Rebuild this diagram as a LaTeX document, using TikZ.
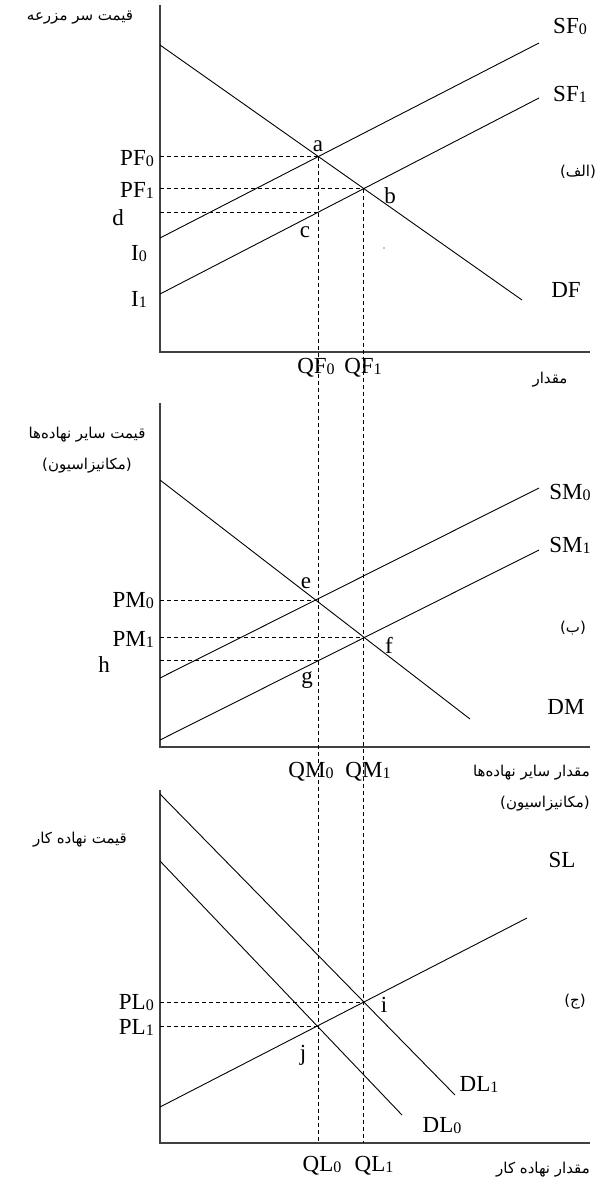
\documentclass[tikz,border=0pt]{standalone}
\usepackage{fontspec}
\setmainfont{Liberation Serif}
\newfontfamily\fa[Script=Arabic]{DejaVu Sans}
\TeXXeTstate=1
\newcommand\mysub[1]{\raisebox{-1pt}{\fontsize{16}{16}\selectfont #1}}
\begin{document}
\begin{tikzpicture}[x=1pt,y=-1pt,
  axisline/.style={line width=1.3pt, black!75},
  curve/.style={line width=0.9pt},
  guide/.style={dash pattern=on 4pt off 3pt, line width=0.9pt},
  lbl/.style={font=\fontsize{23}{26}\selectfont, inner sep=0pt},
  fal/.style={font=\fa\fontsize{15}{31}\selectfont, inner sep=0pt, align=center}]
\useasboundingbox[fill=white] (0,0) rectangle (602,1187);

% ---------- top panel ----------
\coordinate (A1top) at (160,5);
\coordinate (A1o) at (160,352);
\coordinate (A1r) at (590,352);
\coordinate (df0) at (160,45);  \coordinate (df1) at (522,300);
\coordinate (sf00) at (160,238); \coordinate (sf01) at (539,43);
\coordinate (sf10) at (160,294); \coordinate (sf11) at (539,98);
% ---------- middle panel ----------
\coordinate (A2top) at (160,403);
\coordinate (A2o) at (160,747);
\coordinate (A2r) at (590,747);
\coordinate (dm0) at (160,480); \coordinate (dm1) at (470,719);
\coordinate (sm00) at (160,678); \coordinate (sm01) at (539,488);
\coordinate (sm10) at (160,740); \coordinate (sm11) at (539,550);
% ---------- bottom panel ----------
\coordinate (A3top) at (160,790);
\coordinate (A3o) at (160,1143);
\coordinate (A3r) at (590,1143);
\coordinate (dl10) at (160,794); \coordinate (dl11) at (455,1095);
\coordinate (dl00) at (160,861); \coordinate (dl01) at (402,1115);
\coordinate (sl0) at (160,1107); \coordinate (sl1) at (527,918);

% intersections
\coordinate (pa) at (intersection of df0--df1 and sf00--sf01);
\coordinate (pb) at (intersection of df0--df1 and sf10--sf11);
\coordinate (pc) at (intersection of pa--{pa|-A1o} and sf10--sf11);
\coordinate (pe) at (intersection of dm0--dm1 and sm00--sm01);
\coordinate (pf) at (intersection of dm0--dm1 and sm10--sm11);
\coordinate (pg) at (intersection of pa--{pa|-A3o} and sm10--sm11);
\coordinate (pi) at (intersection of dl10--dl11 and sl0--sl1);
\coordinate (pj) at (intersection of dl00--dl01 and sl0--sl1);

% axes
\draw[axisline] (A1top) -- (A1o) -- (A1r);
\draw[axisline] (A2top) -- (A2o) -- (A2r);
\draw[axisline] (A3top) -- (A3o) -- (A3r);

% curves
\draw[curve] (df0) -- (df1);
\draw[curve] (sf00) -- (sf01);
\draw[curve] (sf10) -- (sf11);
\draw[curve] (dm0) -- (dm1);
\draw[curve] (sm00) -- (sm01);
\draw[curve] (sm10) -- (sm11);
\draw[curve] (dl10) -- (dl11);
\draw[curve] (dl00) -- (dl01);
\draw[curve] (sl0) -- (sl1);

% dashed guides
\draw[guide] (A1o|-pa) -- (pa);
\draw[guide] (A1o|-pb) -- (pb);
\draw[guide] (A1o|-pc) -- (pc);
\draw[guide] (pa) -- (pa|-A3o);
\draw[guide] (pb) -- (pb|-A3o);
\draw[guide] (A2o|-pe) -- (pe);
\draw[guide] (A2o|-pf) -- (pf);
\draw[guide] (A2o|-pg) -- (pg);
\draw[guide] (A3o|-pi) -- (pi);
\draw[guide] (A3o|-pj) -- (pj);

\fill (384,248) circle (0.6pt);

% ---------- top labels ----------
\node[fal] (ylab1) at (80,18) {\beginR قیمت سر مزرعه\endR};
\node[lbl] (lSF0) at (570,26) {SF\mysub{0}};
\node[lbl] (lSF1) at (570,94) {SF\mysub{1}};
\node[lbl] (lDF) at (566,290) {DF};
\node[fal] (lalef) at (578,172) {\beginR(الف)\endR};
\node[lbl, anchor=east] (lPF0) at (154,159) {PF\mysub{0}};
\node[lbl, anchor=east] (lPF1) at (154,190) {PF\mysub{1}};
\node[lbl] (ld) at (118,218) {d};
\node[lbl] (lI0) at (139,254) {I\mysub{0}};
\node[lbl] (lI1) at (139,299) {I\mysub{1}};
\node[lbl] (la) at (318,146) {a};
\node[lbl] (lb) at (390,196) {b};
\node[lbl] (lc) at (305,232) {c};
\node[lbl] (lQF0) at (316,368) {QF\mysub{0}};
\node[lbl] (lQF1) at (363,368) {QF\mysub{1}};
\node[fal] (xlab1) at (550,380) {\beginR مقدار\endR};

% ---------- middle labels ----------
\node[fal] (ylab2) at (87,450) {\beginR قیمت سایر نهاده‌ها\endR\\\beginR(مکانیزاسیون)\endR};
\node[lbl] (lSM0) at (570,492) {SM\mysub{0}};
\node[lbl] (lSM1) at (570,545) {SM\mysub{1}};
\node[lbl] (lDM) at (566,707) {DM};
\node[fal] (lbe) at (573,628) {\beginR(ب)\endR};
\node[lbl, anchor=east] (lPM0) at (154,601) {PM\mysub{0}};
\node[lbl, anchor=east] (lPM1) at (154,639) {PM\mysub{1}};
\node[lbl] (lh) at (104,665) {h};
\node[lbl] (le) at (306,583) {e};
\node[lbl] (lf) at (389,645) {f};
\node[lbl] (lg) at (307,680) {g};
\node[lbl] (lQM0) at (311,772) {QM\mysub{0}};
\node[lbl] (lQM1) at (368,772) {QM\mysub{1}};
\node[fal, align=right, anchor=east] (xlab2) at (590,788) {\beginR مقدار سایر نهاده‌ها\endR\\\beginR(مکانیزاسیون)\endR};

% ---------- bottom labels ----------
\node[fal] (ylab3) at (80,840) {\beginR قیمت نهاده کار\endR};
\node[lbl] (lSL) at (562,860) {SL};
\node[fal] (ljim) at (575,1002) {\beginR(ج)\endR};
\node[lbl, anchor=east] (lPL0) at (154,1003) {PL\mysub{0}};
\node[lbl, anchor=east] (lPL1) at (154,1027) {PL\mysub{1}};
\node[lbl] (li) at (384,1005) {i};
\node[lbl] (lj) at (303,1055) {j};
\node[lbl] (lDL1) at (479,1084) {DL\mysub{1}};
\node[lbl] (lDL0) at (442,1126) {DL\mysub{0}};
\node[lbl] (lQL0) at (322,1166) {QL\mysub{0}};
\node[lbl] (lQL1) at (374,1166) {QL\mysub{1}};
\node[fal] (xlab3) at (543,1170) {\beginR مقدار نهاده کار\endR};
\end{tikzpicture}
\end{document}
